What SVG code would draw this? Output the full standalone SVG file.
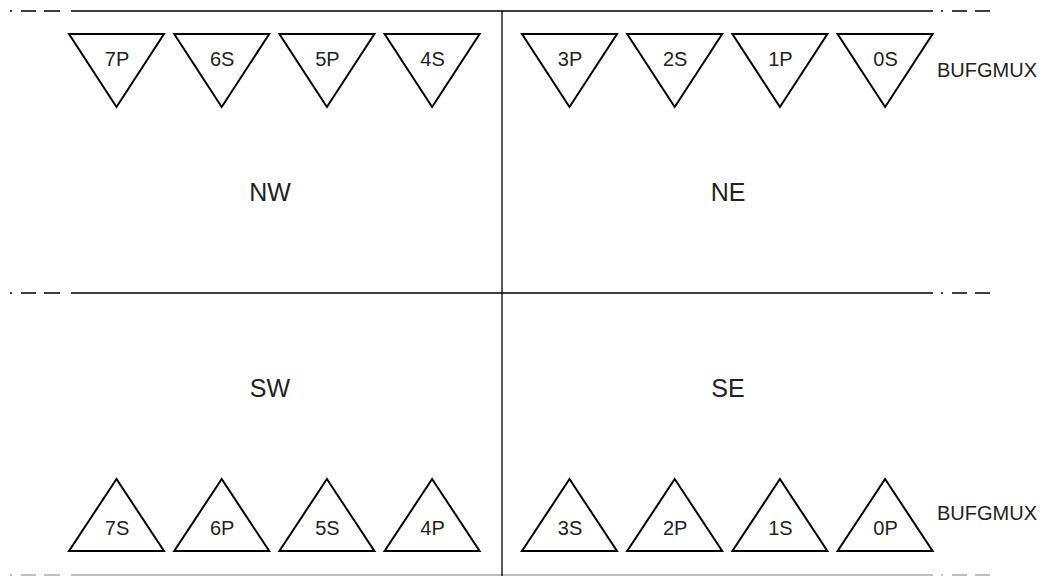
<svg xmlns="http://www.w3.org/2000/svg" width="1054" height="576" viewBox="0 0 1054 576">
<style>
.ln{stroke:#000;stroke-width:1.3;fill:none}
.tri{stroke:#000;stroke-width:2;fill:#fff;stroke-linejoin:miter}
.lb{font-family:"Liberation Sans",Arial,sans-serif;font-size:20px;fill:#222;text-anchor:middle}
.rg{font-family:"Liberation Sans",Arial,sans-serif;font-size:25px;fill:#222;text-anchor:middle}
.bf{font-family:"Liberation Sans",Arial,sans-serif;font-size:20px;fill:#222}
</style>
<defs>
<path id="down" class="tri" d="M-48,34 H47 L-0.5,107 Z"/>
<path id="up" class="tri" d="M-48,551 H47 L-0.5,479 Z"/>
</defs>
<g id="connectors">
<path class="ln" d="M10,11 H12 M21,11 H36 M44,11 H60 M71,11 H933 M941,11 H943 M952,11 H967 M975,11 H990"/>
<path class="ln" d="M10,293 H12 M21,293 H36 M44,293 H60 M71,293 H933 M941,293 H943 M952,293 H967 M975,293 H990"/>
<path class="ln" style="stroke:#aaa" d="M10,575 H12 M21,575 H36 M44,575 H60 M71,575 H933 M941,575 H943 M952,575 H967 M975,575 H990"/>
<path class="ln" d="M502,11 V576"/>
</g>
<g id="regions">
<text class="rg" x="270" y="201">NW</text>
<text class="rg" x="728" y="201">NE</text>
<text class="rg" x="270" y="397">SW</text>
<text class="rg" x="728" y="397">SE</text>
</g>
<g id="top">
<g id="b7P"><use href="#down" x="117"/><text class="lb" x="117" y="66">7P</text></g>
<g id="b6S"><use href="#down" x="222.2"/><text class="lb" x="222.2" y="66">6S</text></g>
<g id="b5P"><use href="#down" x="327.4"/><text class="lb" x="327.4" y="66">5P</text></g>
<g id="b4S"><use href="#down" x="432.6"/><text class="lb" x="432.6" y="66">4S</text></g>
<g id="b3P"><use href="#down" x="570"/><text class="lb" x="570" y="66">3P</text></g>
<g id="b2S"><use href="#down" x="675.2"/><text class="lb" x="675.2" y="66">2S</text></g>
<g id="b1P"><use href="#down" x="780.4"/><text class="lb" x="780.4" y="66">1P</text></g>
<g id="b0S"><use href="#down" x="885.6"/><text class="lb" x="885.6" y="66">0S</text></g>
<text class="bf" x="937" y="77">BUFGMUX</text>
</g>
<g id="bottom">
<g id="b7S"><use href="#up" x="117"/><text class="lb" x="117" y="535">7S</text></g>
<g id="b6P"><use href="#up" x="222.2"/><text class="lb" x="222.2" y="535">6P</text></g>
<g id="b5S"><use href="#up" x="327.4"/><text class="lb" x="327.4" y="535">5S</text></g>
<g id="b4P"><use href="#up" x="432.6"/><text class="lb" x="432.6" y="535">4P</text></g>
<g id="b3S"><use href="#up" x="570"/><text class="lb" x="570" y="535">3S</text></g>
<g id="b2P"><use href="#up" x="675.2"/><text class="lb" x="675.2" y="535">2P</text></g>
<g id="b1S"><use href="#up" x="780.4"/><text class="lb" x="780.4" y="535">1S</text></g>
<g id="b0P"><use href="#up" x="885.6"/><text class="lb" x="885.6" y="535">0P</text></g>
<text class="bf" x="937" y="520">BUFGMUX</text>
</g>
</svg>
